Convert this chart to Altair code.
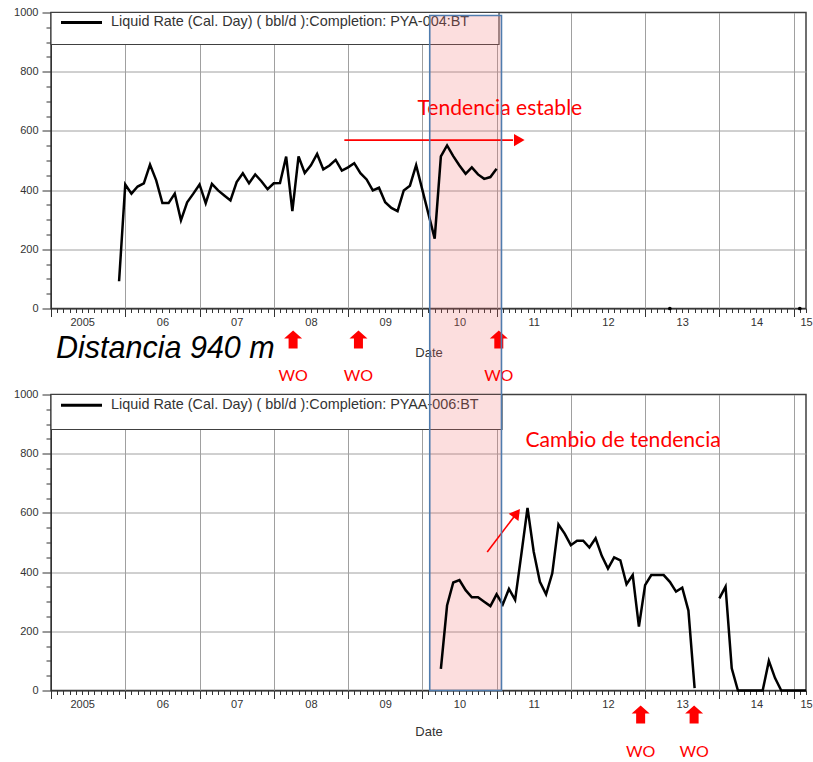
import altair as alt
import pandas as pd

# ---------------- data ----------------
top_months = ["2005-12", "2006-01", "2006-02", "2006-03", "2006-04", "2006-05", "2006-06",
              "2006-07", "2006-08", "2006-09", "2006-10", "2006-11", "2006-12",
              "2007-01", "2007-02", "2007-03", "2007-04", "2007-05", "2007-06",
              "2007-07", "2007-08", "2007-09", "2007-10", "2007-11", "2007-12",
              "2008-01", "2008-02", "2008-03", "2008-04", "2008-05", "2008-06",
              "2008-07", "2008-08", "2008-09", "2008-10", "2008-11", "2008-12",
              "2009-01", "2009-02", "2009-03", "2009-04", "2009-05", "2009-06",
              "2009-07", "2009-08", "2009-09", "2009-10", "2009-11", "2009-12",
              "2010-03", "2010-04", "2010-05", "2010-06", "2010-07", "2010-08",
              "2010-09", "2010-10", "2010-11", "2010-12", "2011-01"]
top_rate = [92, 419, 388, 412, 423, 486, 433,
            356, 356, 388, 298, 359, 388,
            419, 356, 421, 399, 382, 365,
            427, 457, 423, 453, 430, 403,
            423, 424, 513, 329, 514, 458,
            484, 522, 470, 483, 502, 466,
            477, 491, 457, 436, 399, 408,
            359, 340, 329, 399, 415, 484,
            236, 514, 551, 515, 483, 455,
            477, 453, 438, 444, 472]

top_zero_months = ["2013-05", "2015-02"]
top_zero_rate = [0, 0]

bottom_months = ["2010-04", "2010-05", "2010-06", "2010-07", "2010-08", "2010-09",
                 "2010-10", "2010-11", "2010-12", "2011-01", "2011-02", "2011-03",
                 "2011-04", "2011-05", "2011-06", "2011-07", "2011-08", "2011-09",
                 "2011-10", "2011-11", "2011-12", "2012-01", "2012-02", "2012-03",
                 "2012-04", "2012-05", "2012-06", "2012-07", "2012-08", "2012-09",
                 "2012-10", "2012-11", "2012-12", "2013-01", "2013-02", "2013-03",
                 "2013-04", "2013-05", "2013-06", "2013-07", "2013-08", "2013-09",
                 "2013-10", "2013-11", "2013-12", "2014-01", "2014-02", "2014-03",
                 "2014-04", "2014-05", "2014-06", "2014-07", "2014-08", "2014-09",
                 "2014-10", "2014-11", "2014-12", "2015-01", "2015-02", "2015-03"]
bottom_rate = [73, 287, 365, 373, 339, 315,
               315, 300, 285, 325, 291, 343,
               306, 460, 617, 469, 367, 325,
               396, 561, 530, 491, 506, 506,
               483, 514, 455, 412, 450, 440,
               359, 390, 216, 356, 390, 390,
               390, 367, 334, 347, 270, 8,
               None, None, None, 311, 351, 75,
               0, 0, 0, 0, 0, 100,
               42, 0, 0, 0, 0, 0]

legend_labels = ["Liquid Rate (Cal. Day) ( bbl/d ):Completion: PYA-004:BT",
                 "Liquid Rate (Cal. Day) ( bbl/d ):Completion: PYAA-006:BT"]
year_labels = ["2005", "06", "07", "08", "09", "10", "11", "12", "13", "14", "15"]

highlight_start = [2010.10]
highlight_end = [2011.066]

wo_top = [2008.26, 2009.14, 2011.03]
wo_bottom = [2012.94, 2013.66]
wo_text = "WO"

note_top = ["Tendencia estable"]
note_top_x = [2009.935]
note_top_y = [675]
arrow_top_x = [2008.95, 2011.222]
arrow_top_y = [569, 569]
head_top_x = [2011.306]
head_top_y = [569]

note_bottom = ["Cambio de tendencia"]
note_bottom_x = [2011.389]
note_bottom_y = [842]
arrow_bottom_x = [2010.874, 2011.238]
arrow_bottom_y = [468, 588]
head_bottom_x = [2011.272]
head_bottom_y = [599]

distance_label = "Distancia 940 m"

# ---------------- helpers ----------------
def dec(s):
    y, m = s.split("-")
    return int(y) + (int(m) - 1) / 12.0


W, H, GAP = 755, 296, 86
FONT = "Liberation Sans"
NOTE_FONT = "Lato"
RED = "#ff0000"

xscale = alt.Scale(domain=[2005, 2015 + 2 / 12], nice=False, zero=False)
yscale = alt.Scale(domain=[0, 1000], nice=False)

month_ticks = [2005 + i / 12 for i in range(123)]
is_year = "abs(datum.value - round(datum.value)) < 0.01"
labels_arr = "[" + ",".join("'%s'" % s for s in year_labels) + "]"
label_expr = ("(abs(datum.value - floor(datum.value) - 0.5) < 0.01 || datum.value > 2015.1) ? "
              + labels_arr + "[floor(datum.value) - 2005] : ''")


def x_axis(title_pad):
    return alt.Axis(
        values=month_ticks,
        labelExpr=label_expr,
        labelOverlap=False,
        labelFlush=False,
        labelOffset={"condition": {"test": "datum.value < 2006", "value": -6}, "value": 0},
        labelFont=FONT, labelFontSize=11, labelColor="#333333", labelPadding=4,
        tickSize={"condition": {"test": is_year, "value": 8}, "value": 4},
        tickColor="#333333",
        grid=True,
        gridColor="#a0a0a0",
        gridOpacity={"condition": {"test": is_year, "value": 1}, "value": 0},
        domainColor="#333333",
        title="Date", titleFont=FONT, titleFontSize=13, titleFontWeight="normal",
        titleColor="#333333", titlePadding=title_pad,
    )


is_major_y = "datum.value % 200 == 0"
y_axis = alt.Axis(
    values=list(range(0, 1001, 50)),
    format="d",
    labelExpr="datum.value % 200 == 0 ? datum.label : ''",
    labelFont=FONT, labelFontSize=11, labelColor="#333333", labelPadding=4,
    tickSize={"condition": {"test": is_major_y, "value": 9}, "value": 5},
    tickColor="#333333",
    grid=True,
    gridColor="#a0a0a0",
    gridOpacity={"condition": {"test": "datum.value % 200 == 0 && datum.value > 0 && datum.value < 1000",
                               "value": 1}, "value": 0},
    domainColor="#333333",
    title=None,
)

one = pd.DataFrame({"k": [0]})
arrow_path = "M0,-1L1,-0.1L0.5,-0.1L0.5,1L-0.5,1L-0.5,-0.1L-1,-0.1Z"


def panel(series, legend_label, legend_w, legend_h, pink_y, pink_y2, title_pad,
          note, nx, ny, ax, ay, hx, hy, head_shape, head_angle, wo, wo_y, wo_ty, extra=None):
    X = lambda f: alt.X(f, type="quantitative", scale=xscale, axis=x_axis(title_pad))
    Y = lambda f: alt.Y(f, type="quantitative", scale=yscale, axis=y_axis)

    box = alt.Chart(one).mark_rect(fill="white", stroke="#404040", strokeWidth=1.2).encode(
        x=alt.value(0), x2=alt.value(legend_w), y=alt.value(0), y2=alt.value(legend_h))
    leg_line = alt.Chart(one).mark_rule(color="black", strokeWidth=3).encode(
        x=alt.value(10), x2=alt.value(51), y=alt.value(legend_h * 0.31))
    leg_text = alt.Chart(pd.DataFrame({"t": [legend_label]})).mark_text(
        align="left", baseline="middle", font=FONT, fontSize=14.4, color="#333333").encode(
        x=alt.value(60), y=alt.value(legend_h * 0.31), text="t:N")

    hl = pd.DataFrame({"start": highlight_start, "end": highlight_end})
    pink = alt.Chart(hl).mark_rect(fill="#f26b6b", fillOpacity=0.22, strokeWidth=0).encode(
        x=X("start"), x2="end:Q", y=alt.value(pink_y), y2=alt.value(pink_y2))

    line = alt.Chart(series).mark_line(color="black", strokeWidth=2.5).encode(
        x=X("t"), y=Y("rate"), detail="seg:N")

    note_c = alt.Chart(pd.DataFrame({"x": nx, "y": ny, "t": note})).mark_text(
        align="left", baseline="middle", font=NOTE_FONT, fontSize=21.1, color=RED).encode(
        x=X("x"), y=Y("y"), text="t:N")
    arr = alt.Chart(pd.DataFrame({"x": ax, "y": ay})).mark_line(color=RED, strokeWidth=1.6).encode(
        x=X("x"), y=Y("y"))
    head = alt.Chart(pd.DataFrame({"x": hx, "y": hy})).mark_point(
        shape=head_shape, angle=head_angle, filled=True, color=RED, opacity=1, size=150).encode(
        x=X("x"), y=Y("y"))

    wo_df = pd.DataFrame({"x": wo, "t": [wo_text] * len(wo)})
    wo_arrows = alt.Chart(wo_df).mark_point(
        shape=arrow_path, filled=True, color=RED, opacity=1, size=324).encode(
        x=X("x"), y=alt.value(wo_y))
    wo_labels = alt.Chart(wo_df).mark_text(
        font=NOTE_FONT, fontSize=16, color=RED, baseline="middle").encode(
        x=X("x"), y=alt.value(wo_ty), text="t:N")

    layers = [box, leg_line, leg_text, pink, line, note_c, arr, head, wo_arrows, wo_labels]
    if extra:
        layers += extra(X, Y)
    return alt.layer(*layers).properties(width=W, height=H)


def build_series(months, rates):
    rows, seg = [], 0
    for m, r in zip(months, rates):
        if r is None:
            seg += 1
            continue
        rows.append({"t": dec(m), "rate": r, "seg": seg})
    return pd.DataFrame(rows)


top_df = build_series(top_months, top_rate)
bot_df = build_series(bottom_months, bottom_rate)


def top_extra(X, Y):
    dots = alt.Chart(pd.DataFrame({"t": [dec(m) for m in top_zero_months], "rate": top_zero_rate})).mark_point(
        filled=True, color="black", opacity=1, size=14).encode(x=X("t"), y=Y("rate"))
    dist = alt.Chart(pd.DataFrame({"t": [distance_label]})).mark_text(
        align="left", baseline="middle", font=FONT, fontStyle="italic", fontSize=30.5,
        color="black").encode(x=alt.value(5), y=alt.value(H + 40), text="t:N")
    return [dots, dist]


def bottom_extra(X, Y):
    hl = pd.DataFrame({"start": highlight_start, "end": highlight_end})
    outline = alt.Chart(hl).mark_rect(fillOpacity=0, stroke="#4f7cae", strokeWidth=1.6).encode(
        x=X("start"), x2="end:Q", y=alt.value(-(GAP + H - 3)), y2=alt.value(H))
    return [outline]


top = panel(top_df, legend_labels[0], 448, 32, 3, H + GAP, 15,
            note_top, note_top_x, note_top_y, arrow_top_x, arrow_top_y,
            head_top_x, head_top_y, "triangle-right", 0, wo_top, H + 31, H + 67, top_extra)
bottom = panel(bot_df, legend_labels[1], 451, 35, 0, H, 12,
               note_bottom, note_bottom_x, note_bottom_y, arrow_bottom_x, arrow_bottom_y,
               head_bottom_x, head_bottom_y, "triangle-up", 37, wo_bottom, H + 24, H + 61, bottom_extra)

chart = alt.vconcat(top, bottom, spacing=GAP, bounds="flush").properties(
    padding={"left": 12, "top": 5.5, "right": 0, "bottom": 0}
).configure_view(stroke="#404040", strokeWidth=1.5)

chart.save("out.html", embed_options={"renderer": "svg", "actions": False})
